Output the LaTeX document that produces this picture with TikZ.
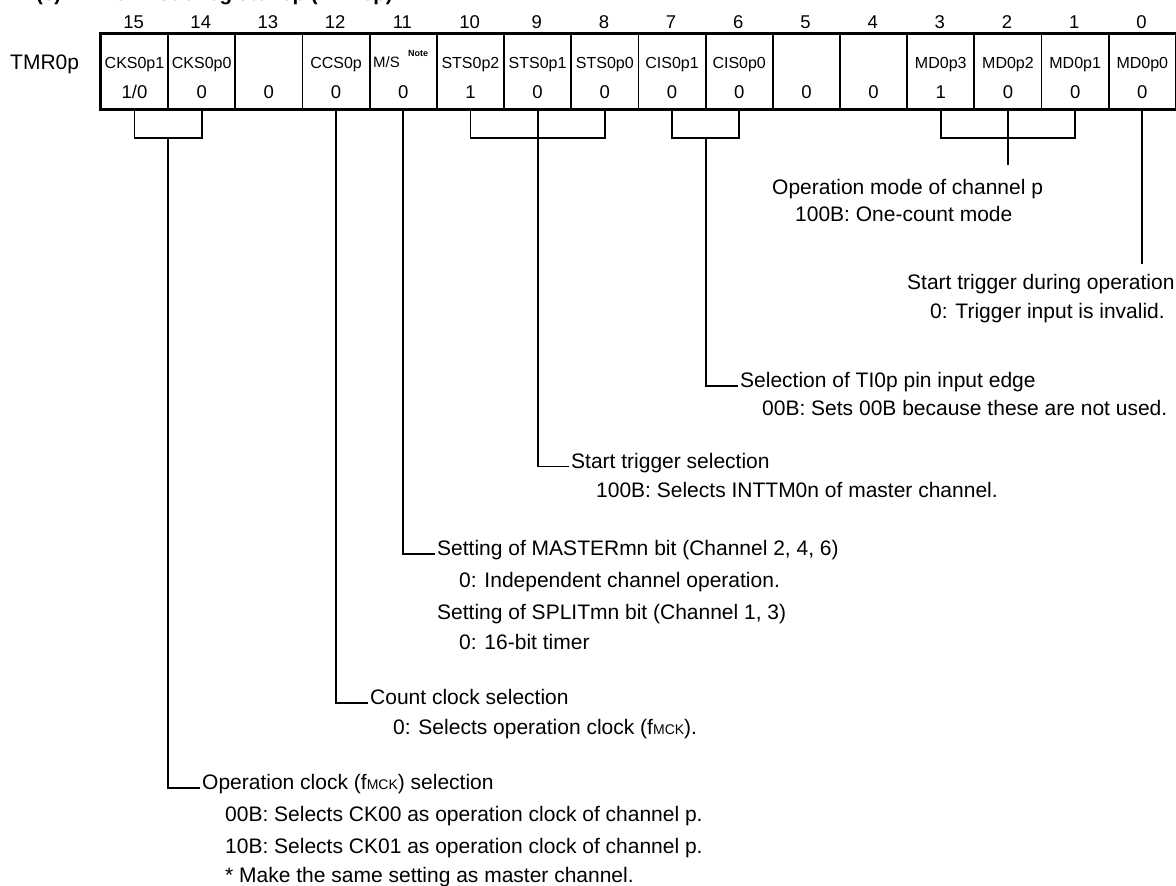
\documentclass[tikz,border=0pt]{standalone}
\usepackage{fontspec}
\setmainfont{Liberation Sans}
\usetikzlibrary{calc}
\newcommand{\fmck}{f{\fontsize{14}{14}\selectfont MCK}}
\begin{document}
\begin{tikzpicture}[x=1pt,y=-1pt,
  desc/.style={anchor=base west,inner sep=0pt,font=\fontsize{21}{21}\selectfont},
  ttl/.style={inner sep=0pt,font=\bfseries\fontsize{20.5}{20.5}\selectfont},
  bitnum/.style={anchor=base,inner sep=0pt,font=\fontsize{18.5}{18.5}\selectfont},
  fname/.style={anchor=base,inner sep=0pt,font=\fontsize{16}{16}\selectfont},
  fval/.style={anchor=base,inner sep=0pt,font=\fontsize{18.5}{18.5}\selectfont},
  cellbox/.style={draw,line width=1.8pt,minimum width=67.19pt,minimum height=75pt,inner sep=0pt,anchor=north west},
  conn/.style={line width=1.8pt},
]
\useasboundingbox (0,0) rectangle (1176,886);

% title (only its lower edge is visible)
\node[ttl,anchor=base west] (tc) at (36,0.8) {(c)};
\node[ttl,anchor=base east] (tt) at (393,0.8) {Timer mode register 0p (TMR0p)};

% register label
\node[anchor=base west,inner sep=0pt,font=\fontsize{21}{21}\selectfont] (reg) at (10,69.5) {TMR0p};

% cells
\foreach \k/\b in {0/15,1/14,2/13,3/12,4/11,5/10,6/9,7/8,8/7,9/6,10/5,11/4,12/3,13/2,14/1,15/0}{
  \node[cellbox] (b\b) at ({100+67.19*\k},33) {};
  \node[bitnum] (t\b) at ({100+67.19*(\k+0.5)},28.3) {\b};
}
\draw[line width=2.6pt] (b15.north west) rectangle (b0.south east);

% field names
\foreach \b/\nm in {15/CKS0p1,14/CKS0p0,12/CCS0p,10/STS0p2,9/STS0p1,8/STS0p0,7/CIS0p1,6/CIS0p0,3/MD0p3,2/MD0p2,1/MD0p1,0/MD0p0}{
  \node[fname] (n\b) at ($(b\b.north)+(0,35.3)$) {\nm};
}
\node[anchor=base west,inner sep=0pt,font=\fontsize{15}{15}\selectfont] (n11) at (373,67) {M/S};
\node[anchor=base west,inner sep=0pt,font=\bfseries\fontsize{9}{9}\selectfont] (note) at (408,56.7) {Note};

% values
\node[fval] (v15) at ($(b15.north)+(0,65)$) {1/0};
\foreach \b/\v in {14/0,13/0,12/0,11/0,10/1,9/0,8/0,7/0,6/0,5/0,4/0,3/1,2/0,1/0,0/0}{
  \node[fval] (v\b) at ($(b\b.north)+(0,65)$) {\v};
}

% descriptions
\node[desc] (lmd) at (772,194.5) {Operation mode of channel p};
\node[desc] (lmd1) at (795,221.5) {100B: One-count mode};

\node[desc] (lst) at (907,289.5) {Start trigger during operation};
\node[desc] (lst1) at (930,318.5) {0: Trigger input is invalid.};

\node[desc] (lcis) at (740,387.5) {Selection of TI0p pin input edge};
\node[desc] (lcis1) at (762,415.5) {00B: Sets 00B because these are not used.};

\node[desc] (lsts) at (571,468) {Start trigger selection};
\node[desc] (lsts1) at (596,497.5) {100B: Selects INTTM0n of master channel.};

\node[desc] (lms) at (437,555.5) {Setting of MASTERmn bit (Channel 2, 4, 6)};
\node[desc] (lms1) at (459,587.5) {0: Independent channel operation.};
\node[desc] (lms2) at (437,619.5) {Setting of SPLITmn bit (Channel 1, 3)};
\node[desc] (lms3) at (459,649.5) {0: 16-bit timer};

\node[desc] (lccs) at (370,704.5) {Count clock selection};
\node[desc] (lccs1) at (393,734.5) {0: Selects operation clock (\fmck).};

\node[desc] (lcks) at (202,789.5) {Operation clock (\fmck) selection};
\node[desc] (lcks1) at (225,821.5) {00B: Selects CK00 as operation clock of channel p.};
\node[desc] (lcks2) at (225,853.5) {10B: Selects CK01 as operation clock of channel p.};
\node[desc] (lcks3) at (225,882.5) {* Make the same setting as master channel.};

% connectors
% CKS0p1/0
\draw[conn] (b15.south) -- ++(0,28) -| (b14.south);
\draw[conn] ($(b15.south)!0.5!(b14.south)+(0,28)$) |- ($(lcks.base west)+(-2,-1.5)$);
% CCS0p
\draw[conn] (b12.south) |- ($(lccs.base west)+(-2,-1.5)$);
% M/S
\draw[conn] (b11.south) |- ($(lms.base west)+(-2,-1.5)$);
% STS
\draw[conn] (b10.south) -- ++(0,28) -| (b8.south);
\draw[conn] (b9.south) |- ($(lsts.base west)+(-2,-1.5)$);
% CIS
\draw[conn] (b7.south) -- ++(0,28) -| (b6.south);
\draw[conn] ($(b7.south)!0.5!(b6.south)+(0,28)$) |- ($(lcis.base west)+(-2,-1.5)$);
% MD0p3..1
\draw[conn] (b3.south) -- ++(0,28) -| (b1.south);
\draw[conn] (b2.south) -- ++(0,55) coordinate (mdend);
% MD0p0
\draw[conn] (b0.south) -- ++(0,154) coordinate (md0end);
\end{tikzpicture}
\end{document}
